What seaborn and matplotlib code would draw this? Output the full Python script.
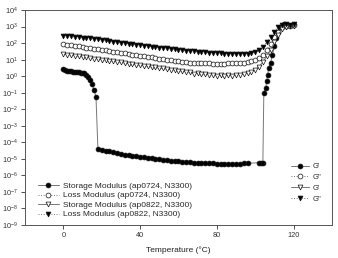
import pandas as pd
import seaborn as sns
import matplotlib.pyplot as plt

# === data (log10 of modulus) ===
temp = list(range(0, 121, 2))

loss_0822 = [2.45, 2.43, 2.42, 2.39, 2.36, 2.33, 2.31, 2.29, 2.25, 2.22,
             2.18, 2.16, 2.12, 2.08, 2.06, 2.02, 1.99, 1.97, 1.93, 1.90,
             1.87, 1.85, 1.82, 1.79, 1.77, 1.73, 1.71, 1.68, 1.66, 1.62,
             1.60, 1.57, 1.55, 1.52, 1.50, 1.48, 1.46, 1.44, 1.43, 1.41,
             1.40, 1.38, 1.37, 1.36, 1.35, 1.35, 1.34, 1.35, 1.36, 1.40,
             1.48, 1.60, 1.78, 2.05, 2.35, 2.70, 2.95, 3.10, 3.15, 3.12,
             3.15]

loss_0724 = [1.94, 1.91, 1.87, 1.84, 1.80, 1.77, 1.73, 1.70, 1.66, 1.63,
             1.59, 1.56, 1.52, 1.49, 1.45, 1.42, 1.38, 1.35, 1.31, 1.28,
             1.24, 1.21, 1.17, 1.14, 1.10, 1.07, 1.03, 1.00, 0.97, 0.93,
             0.90, 0.87, 0.84, 0.82, 0.80, 0.79, 0.78, 0.77, 0.77, 0.76,
             0.76, 0.76, 0.76, 0.77, 0.77, 0.78, 0.79, 0.81, 0.84, 0.90,
             0.98, 1.10, 1.30, 1.60, 1.95, 2.35, 2.70, 2.95, 3.05, 3.05,
             3.10]

storage_0822 = [1.34, 1.30, 1.28, 1.25, 1.20, 1.18, 1.14, 1.12, 1.06, 1.05,
                1.00, 0.98, 0.92, 0.92, 0.86, 0.84, 0.80, 0.76, 0.74, 0.68,
                0.67, 0.62, 0.60, 0.55, 0.54, 0.48, 0.47, 0.42, 0.40, 0.36,
                0.33, 0.30, 0.26, 0.24, 0.16, 0.18, 0.12, 0.13, 0.08, 0.10,
                0.04, 0.06, 0.02, 0.05, 0.04, 0.08, 0.10, 0.14, 0.20, 0.28,
                0.40, 0.58, 0.85, 1.20, 1.60, 2.05, 2.50, 2.85, 3.00, 3.05,
                3.05]

# G' ap0724 has its own temperature points (drop near 17 C, jump near 104 C)
temp_0724 = ([0, 1, 2, 3, 4, 5, 6, 7, 8, 9, 10, 11, 12, 13, 14, 15, 16, 17]
             + list(range(18, 97, 2))
             + [102, 103, 104, 104.5, 105.5, 106, 106.5, 107, 108, 109,
                110, 111, 112, 113, 115, 117, 119])
storage_0724 = ([0.46, 0.38, 0.33, 0.30, 0.29, 0.28, 0.27, 0.25, 0.24, 0.22,
                 0.20, 0.18, 0.10, -0.05, -0.25, -0.50, -0.85, -1.25]
                + [-4.38, -4.45, -4.50, -4.55, -4.60, -4.65, -4.70, -4.74, -4.78, -4.82,
                   -4.85, -4.88, -4.91, -4.94, -4.97, -5.00, -5.03, -5.06, -5.09, -5.11,
                   -5.13, -5.15, -5.17, -5.19, -5.21, -5.23, -5.24, -5.25, -5.26, -5.27,
                   -5.28, -5.29, -5.29, -5.30, -5.30, -5.30, -5.29, -5.29, -5.28, -5.27]
                + [-5.23, -5.25, -5.24, -1.0, -0.7, -0.3, 0.1, 0.5, 0.8, 1.3,
                   1.8, 2.3, 2.7, 3.0, 3.15, 3.1, 3.1])

labels = ["Storage Modulus (ap0724, N3300)", "Loss Modulus (ap0724, N3300)",
          "Storage Modulus (ap0822, N3300)", "Loss Modulus (ap0822, N3300)"]
short_labels = ["G'", 'G"', "G'", 'G"']
ytick_exp = list(range(-9, 5))

# === style ===
sns.set_theme(style="white")
plt.rcParams['font.family'] = ['Liberation Sans', 'DejaVu Sans']
plt.rcParams['mathtext.default'] = 'regular'

fig, ax = plt.subplots(figsize=(3.38, 2.58), dpi=100)
fig.subplots_adjust(left=0.074, right=0.982, bottom=0.128, top=0.961)

series = [
    (temp_0724, storage_0724, 'o', 'black', '-'),
    (temp, loss_0724, 'o', 'white', ':'),
    (temp, storage_0822, 'v', 'white', '-'),
    (temp, loss_0822, 'v', 'black', ':'),
]

for (t, vals, mk, fc, ls), lab in zip(series, labels):
    df = pd.DataFrame({"Temperature": t, "Modulus": [10 ** v for v in vals]})
    sns.lineplot(data=df, x="Temperature", y="Modulus", ax=ax, label=lab,
                 color='#777777', linestyle=ls, linewidth=0.7,
                 marker=mk, markersize=3.5, markerfacecolor=fc,
                 markeredgecolor='#111111', markeredgewidth=0.5,
                 estimator=None, errorbar=None, sort=False)

ax.set_yscale('log')
ax.set_ylim(1e-9, 1e4)
ax.set_yticks([10.0 ** k for k in ytick_exp])
ax.set_yticklabels([f'$10^{{{k}}}$' for k in ytick_exp])
ax.minorticks_off()
ax.set_xlim(-20, 140)
ax.set_xticks([0, 40, 80, 120])
ax.tick_params(bottom=True, left=True, direction='out', length=3, width=0.6,
               labelsize=5.3, pad=2, colors='#333333')
for sp in ax.spines.values():
    sp.set_color('#555555')
    sp.set_linewidth(0.7)

ax.set_xlabel("Temperature (°C)", fontsize=6, color='#222222', labelpad=5)
ax.set_ylabel("")

# === legends ===
handles, _ = ax.get_legend_handles_labels()
leg1 = ax.legend(handles, labels, loc='lower left', bbox_to_anchor=(0.03, 0.015),
                 frameon=False, fontsize=6, handlelength=2.6, handletextpad=0.4,
                 labelspacing=0.2, borderaxespad=0)
ax.add_artist(leg1)
ax.legend(handles, short_labels, loc='lower right', bbox_to_anchor=(0.975, 0.09),
          frameon=False, fontsize=5.5, handlelength=2.4, handletextpad=0.4,
          labelspacing=0.45, borderaxespad=0)

plt.savefig("out.png", dpi=100)
